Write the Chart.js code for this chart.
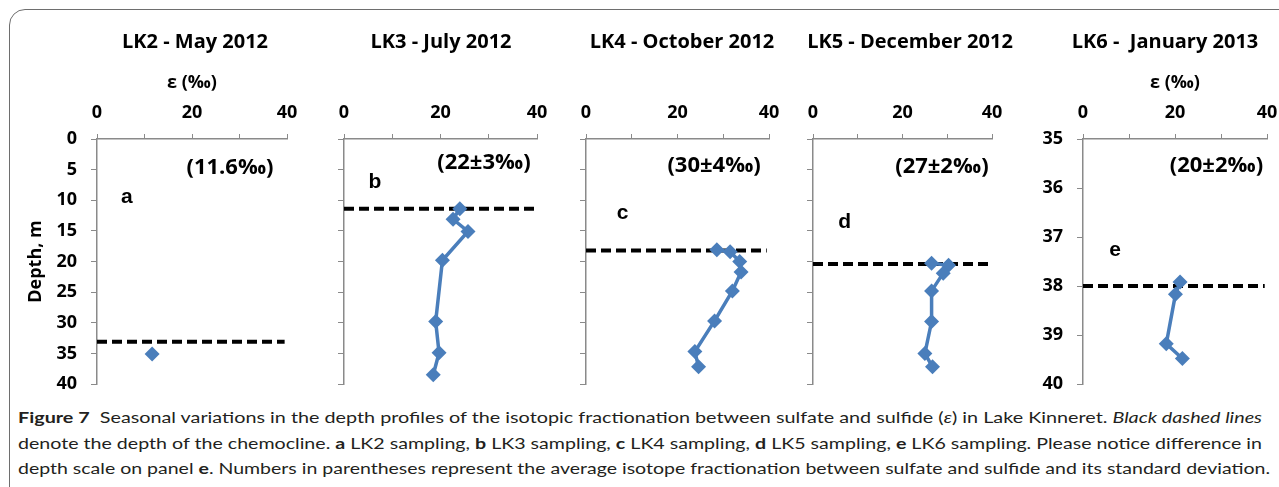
<!DOCTYPE html>
<html>
<head>
<meta charset="utf-8">
<title>Figure 7</title>
<script src="https://cdn.jsdelivr.net/npm/chart.js"></script>
<style>
  html, body { margin: 0; padding: 0; background: #fff; }
  body { width: 1279px; height: 487px; position: relative; overflow: hidden; }
  .frame { position: absolute; left: 9px; top: 9px; width: 1330px; height: 540px;
           border: 1px solid #6e6e6e; border-radius: 16px; }
  canvas.panel { position: absolute; top: 0; }
  .caption { position: absolute; left: 18px; top: 404px; font-family: Lato, sans-serif;
             font-size: 16px; color: #231f20; }
  .caption div { white-space: nowrap; height: 25.5px; line-height: 25.5px; transform-origin: left center; }
</style>
</head>
<body>
<div class="frame"></div>
<canvas class="panel" id="panelA"></canvas>
<canvas class="panel" id="panelB"></canvas>
<canvas class="panel" id="panelC"></canvas>
<canvas class="panel" id="panelD"></canvas>
<canvas class="panel" id="panelE"></canvas>
<div class="caption" id="caption">
  <div><b>Figure 7</b>&nbsp; Seasonal variations in the depth profiles of the isotopic fractionation between sulfate and sulfide (<i>ε</i>) in Lake Kinneret. <i>Black dashed lines</i></div>
  <div>denote the depth of the chemocline. <b>a</b> LK2 sampling, <b>b</b> LK3 sampling, <b>c</b> LK4 sampling, <b>d</b> LK5 sampling, <b>e</b> LK6 sampling. Please notice difference in</div>
  <div>depth scale on panel <b>e</b>. Numbers in parentheses represent the average isotope fractionation between sulfate and sulfide and its standard deviation.</div>
</div>
<script>
// values
const panelTitles = ['LK2 - May 2012', 'LK3 - July 2012', 'LK4 - October 2012', 'LK5 - December 2012', 'LK6 -  January 2013'];
const panelLetters = ['a', 'b', 'c', 'd', 'e'];
const meanLabels = ['(11.6‰)', '(22±3‰)', '(30±4‰)', '(27±2‰)', '(20±2‰)'];
const chemoclineDepth = [33.1, 11.4, 18.2, 20.4, 38.0];
const chemoclineEps = [0, 39.5];
const epsRange = [0, 40];
const depthRange = [0, 40];
const depthRangeE = [35, 40];

const epsA = [11.6];
const depthA = [35.1];
const epsB = [24.0, 22.6, 25.7, 20.4, 19.0, 19.7, 18.5];
const depthB = [11.4, 13.1, 15.1, 19.8, 29.8, 34.9, 38.5];
const epsC = [28.6, 31.5, 33.6, 33.9, 32.0, 28.1, 23.8, 24.6];
const depthC = [18.1, 18.4, 20.0, 21.7, 24.8, 29.7, 34.7, 37.2];
const epsD = [26.5, 30.3, 29.1, 26.5, 26.5, 25.0, 26.7];
const depthD = [20.3, 20.6, 21.9, 24.8, 29.8, 35.0, 37.2];
const epsE = [21.1, 20.1, 18.1, 21.6];
const depthE = [37.92, 38.17, 39.18, 39.48];

const seriesEps = [epsA, epsB, epsC, epsD, epsE];
const seriesDepth = [depthA, depthB, depthC, depthD, depthE];

// page layout of each panel
const panels = [
  { id: 'panelA', axisLeft: 97,   axisRight: 287,  yWidth: 97, yLabels: true, yTitle: true, xTitle: true,
    headX: 195, meanAt: [28, 4.7], letterAt: [6.3, 9.5] },
  { id: 'panelB', axisLeft: 344,  axisRight: 537,  yWidth: 20, headX: 441, meanAt: [29, 3.9], letterAt: [6.4, 7.0] },
  { id: 'panelC', axisLeft: 586,  axisRight: 769,  yWidth: 20, headX: 682, meanAt: [28, 4.3], letterAt: [8.0, 12.1] },
  { id: 'panelD', axisLeft: 813,  axisRight: 992,  yWidth: 20, headX: 910, meanAt: [28.8, 4.6], letterAt: [7.1, 13.6] },
  { id: 'panelE', axisLeft: 1083, axisRight: 1267, yWidth: 50, yLabels: true, xTitle: true,
    headX: 1165, meanAt: [29, 35.55], letterAt: [7.0, 37.27] }
];

const blue = '#4a7ebb';
const axisGrey = '#8a8a8a';
const padRight = 30;
const canvasHeight = 396;
const boldFont = '"Open Sans", sans-serif';

Chart.defaults.font.family = boldFont;
Chart.defaults.font.size = 18;
Chart.defaults.font.weight = 'bold';
Chart.defaults.color = '#000';

// header, mean value and panel letter
const panelText = {
  id: 'panelText',
  afterDraw(chart, args, opts) {
    const { ctx, scales: { x, y } } = chart;
    ctx.save();
    ctx.fillStyle = '#000';
    ctx.textAlign = 'center';
    ctx.textBaseline = 'middle';
    ctx.font = 'bold 20px ' + boldFont;
    ctx.fillText(opts.head, opts.headX, 42);
    ctx.font = 'bold 22px ' + boldFont;
    ctx.fillText(opts.mean, x.getPixelForValue(opts.meanAt[0]), y.getPixelForValue(opts.meanAt[1]));
    ctx.font = 'bold 21px "Liberation Sans", Arial, sans-serif';
    ctx.fillText(opts.letter, x.getPixelForValue(opts.letterAt[0]), y.getPixelForValue(opts.letterAt[1]));
    ctx.restore();
  }
};

function makePanel(p, i) {
  const canvas = document.getElementById(p.id);
  const left = p.axisLeft - p.yWidth;
  canvas.width = p.axisRight + padRight - left;
  canvas.height = canvasHeight;
  canvas.style.left = left + 'px';

  const isE = i === 4;
  const yr = isE ? depthRangeE : depthRange;
  const points = seriesEps[i].map((v, k) => ({ x: v, y: seriesDepth[i][k] }));
  const dashed = chemoclineEps.map(v => ({ x: v, y: chemoclineDepth[i] }));

  new Chart(canvas, {
    type: 'scatter',
    data: {
      datasets: [{
        data: points,
        showLine: true,
        borderColor: blue,
        backgroundColor: blue,
        borderWidth: 3.5,
        pointStyle: 'rectRot',
        pointRadius: 7.5,
        pointBorderWidth: 0,
        clip: false
      }, {
        data: dashed,
        showLine: true,
        borderColor: '#000',
        borderWidth: 4,
        borderDash: [10, 5],
        pointRadius: 0,
        clip: false
      }]
    },
    options: {
      responsive: false,
      animation: false,
      layout: { padding: { top: 58, right: padRight, bottom: 12, left: 0 } },
      plugins: {
        legend: { display: false },
        tooltip: { enabled: false },
        panelText: {
          head: panelTitles[i], headX: p.headX - left,
          mean: meanLabels[i], meanAt: p.meanAt,
          letter: panelLetters[i], letterAt: p.letterAt
        }
      },
      scales: {
        x: {
          type: 'linear',
          position: 'top',
          min: epsRange[0],
          max: epsRange[1],
          afterFit: scale => { scale.height = 81; },
          grid: { drawOnChartArea: false, drawTicks: true, tickLength: 5, color: axisGrey },
          border: { color: axisGrey, width: 1.5 },
          ticks: {
            stepSize: 10,
            autoSkip: false,
            maxRotation: 0,
            padding: 10,
            callback: v => (v % 20 === 0 ? v : '')
          },
          title: {
            display: !!p.xTitle,
            text: 'ε (‰)',
            font: { size: 18, weight: 'bold' },
            padding: { top: 14, bottom: 0 }
          }
        },
        y: {
          type: 'linear',
          reverse: true,
          min: yr[0],
          max: yr[1],
          afterFit: scale => {
            scale.width = p.yWidth;
            // keep the plot bottom where the layout padding puts it
            scale.paddingTop = 0;
            scale.paddingBottom = 0;
          },
          grid: { drawOnChartArea: false, drawTicks: true, tickLength: 6, color: axisGrey },
          border: { color: axisGrey, width: 1.5 },
          ticks: {
            display: !!p.yLabels,
            stepSize: isE ? 1 : 5,
            autoSkip: false,
            padding: 14
          },
          title: {
            display: !!p.yTitle,
            text: 'Depth, m',
            font: { size: 18, weight: 'bold' },
            padding: { top: 25, bottom: 0 }
          }
        }
      }
    },
    plugins: [panelText]
  });
}

panels.forEach(makePanel);

// stretch each caption line to the width it has in the figure
const captionWidths = [1244, 1244, 1252];
document.fonts.ready.then(() => {
  document.querySelectorAll('#caption div').forEach((line, k) => {
    const range = document.createRange();
    range.selectNodeContents(line);
    const textW = range.getBoundingClientRect().width || line.scrollWidth;
    line.style.transform = 'scaleX(' + (captionWidths[k] / textW) + ')';
  });
});
</script>
</body>
</html>
